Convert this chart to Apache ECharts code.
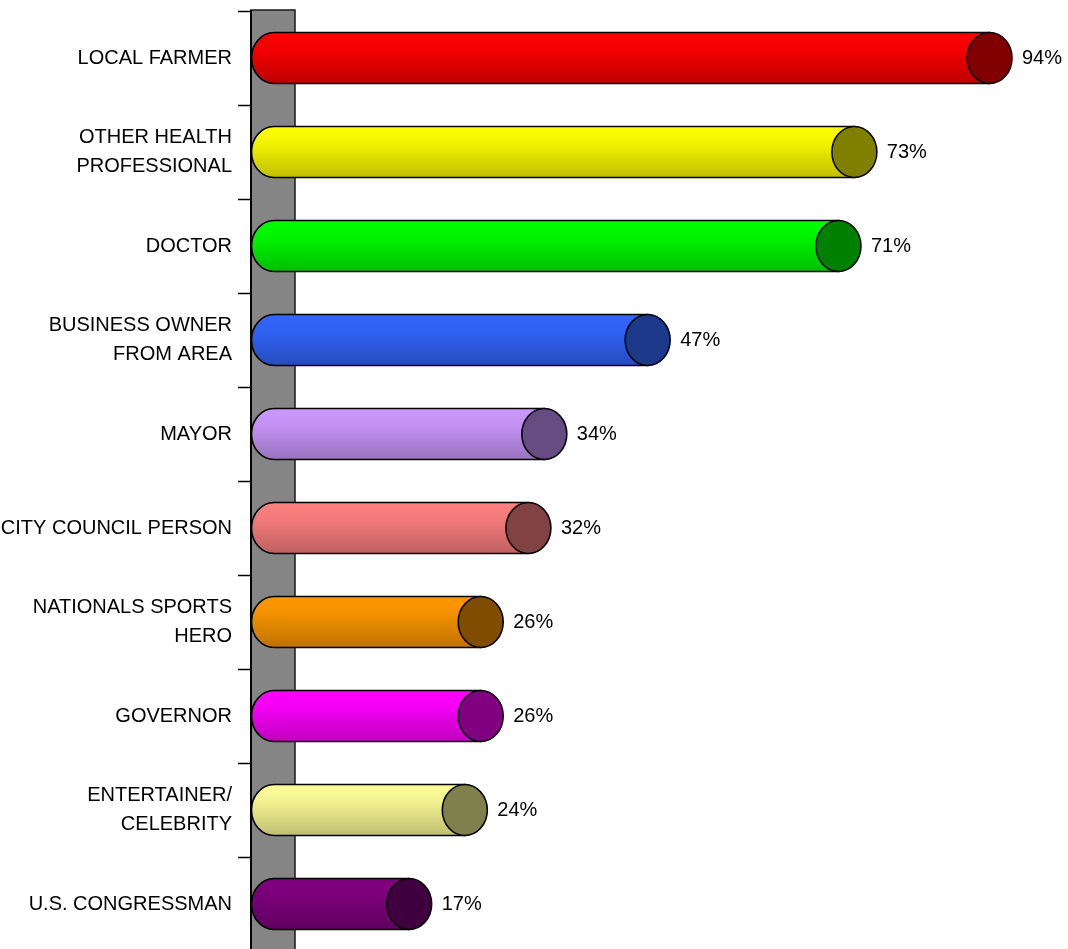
<!DOCTYPE html>
<html>
<head>
<meta charset="utf-8">
<script src="https://cdn.jsdelivr.net/npm/echarts@6/dist/echarts.min.js"></script>
<style>
  html, body { margin: 0; padding: 0; background: #fff; }
  #chart { width: 1068px; height: 949px; }
</style>
</head>
<body>
<div id="chart"></div>
<script>
// Categories, top to bottom
const categories = [
  'LOCAL FARMER',
  'OTHER HEALTH\nPROFESSIONAL',
  'DOCTOR',
  'BUSINESS OWNER\nFROM AREA',
  'MAYOR',
  'CITY COUNCIL PERSON',
  'NATIONALS SPORTS\nHERO',
  'GOVERNOR',
  'ENTERTAINER/\nCELEBRITY',
  'U.S. CONGRESSMAN'
];

// Percent values
const values = [94, 73, 71, 47, 34, 32, 26, 26, 24, 17];

// Cylinder side colour and end-face colour per category
const sideColors = ['#ff0000', '#ffff00', '#00ff00', '#3366ff', '#cc99ff',
                    '#ff8080', '#ff9900', '#ff00ff', '#ffff99', '#800080'];
const capColors  = ['#800000', '#808000', '#008000', '#1d3a8a', '#664c80',
                    '#804242', '#804c00', '#800080', '#80804c', '#400040'];

// Value axis range (bars longer than the maximum are clipped at it)
const X_MIN = 0;
const X_MAX = 90;

const FONT_FAMILY = '"Liberation Sans", Arial, sans-serif';
const FONT = '20px ' + FONT_FAMILY;

function shade(hex, f) {
  const n = parseInt(hex.slice(1), 16);
  const r = Math.round(((n >> 16) & 255) * f);
  const g = Math.round(((n >> 8) & 255) * f);
  const b = Math.round((n & 255) * f);
  return 'rgb(' + r + ',' + g + ',' + b + ')';
}

const chart = echarts.init(document.getElementById('chart'), null, { renderer: 'canvas' });

const AXIS_OFFSET = 23;   // gap between the axis line and the value origin
const WALL_RIGHT = 21;    // wall extends this far past the value origin
const TICK_LEN = 13;

// Grey back wall, the category axis line and its tick marks at band edges
function renderWall(params, api) {
  const cs = params.coordSys;
  const x0 = cs.x - AXIS_OFFSET;
  const x1 = cs.x + WALL_RIGHT;
  const y0 = cs.y - 1;
  const y1 = cs.y + cs.height + 4;
  const band = api.size([0, 1])[1];
  const children = [
    { type: 'rect', shape: { x: x0, y: y0, width: x1 - x0, height: y1 - y0 },
      style: { fill: '#858585', stroke: '#1a1a1a', lineWidth: 1.5 } },
    { type: 'line', shape: { x1: x0, y1: y0, x2: x0, y2: y1 },
      style: { stroke: '#000', lineWidth: 2 } }
  ];
  for (let k = 0; k <= categories.length; k++) {
    const y = Math.round(api.coord([0, 0])[1] - band / 2 + k * band) + 0.5;
    children.push({
      type: 'line',
      shape: { x1: x0 - TICK_LEN, y1: y, x2: x0, y2: y },
      style: { stroke: '#000', lineWidth: 1.5 }
    });
  }
  return { type: 'group', children: children };
}

function renderCylinder(params, api) {
  const raw = api.value(0);
  const cat = api.value(1);
  const v = Math.min(raw, X_MAX);
  const p0 = api.coord([X_MIN, cat]);
  const p1 = api.coord([v, cat]);
  const band = api.size([0, 1])[1];
  const ry = band * 0.272;
  const rx = ry * 0.88;
  const yc = p0[1];
  const x0 = p0[0];
  const x1 = p1[0];
  const i = params.dataIndex;
  const side = sideColors[i];
  const cap = capColors[i];

  const path =
    'M' + x0 + ',' + (yc - ry) +
    'L' + x1 + ',' + (yc - ry) +
    'L' + x1 + ',' + (yc + ry) +
    'L' + x0 + ',' + (yc + ry) +
    'A' + rx + ',' + ry + ',0,0,1,' + x0 + ',' + (yc - ry) + 'Z';

  return {
    type: 'group',
    children: [
      {
        type: 'path',
        shape: { pathData: path },
        style: {
          fill: new echarts.graphic.LinearGradient(0, 0, 0, 1, [
            { offset: 0, color: side },
            { offset: 0.35, color: shade(side, 0.95) },
            { offset: 1, color: shade(side, 0.74) }
          ]),
          stroke: '#000',
          lineWidth: 1.6
        }
      },
      {
        type: 'ellipse',
        shape: { cx: x1, cy: yc, rx: rx, ry: ry },
        style: { fill: cap, stroke: '#000', lineWidth: 1.6 }
      },
      {
        type: 'text',
        style: {
          x: x1 + rx + 10,
          y: yc,
          text: raw + '%',
          font: FONT,
          fill: '#000',
          verticalAlign: 'middle',
          align: 'left'
        }
      }
    ]
  };
}

chart.setOption({
  animation: false,
  backgroundColor: '#ffffff',
  grid: {
    left: 274, top: 11, width: 715.5, height: 940,
    containLabel: false,
    outerBoundsMode: 'none'
  },
  xAxis: {
    type: 'value',
    min: X_MIN,
    max: X_MAX,
    show: false
  },
  yAxis: {
    type: 'category',
    inverse: true,
    data: categories,
    offset: AXIS_OFFSET,
    axisLine: { show: true, lineStyle: { color: '#000', width: 2 } },
    axisTick: { show: false },
    axisLabel: {
      margin: 19,
      color: '#000',
      fontFamily: FONT_FAMILY,
      fontSize: 20,
      lineHeight: 29,
      align: 'right'
    },
    splitLine: { show: false }
  },
  series: [
    {
      type: 'custom',
      name: 'wall',
      clip: false,
      silent: true,
      z: 1,
      renderItem: renderWall,
      data: [[0, 0]]
    },
    {
      type: 'custom',
      name: 'share',
      clip: false,
      z: 3,
      renderItem: renderCylinder,
      encode: { x: 0, y: 1 },
      data: values.map((v, i) => [v, i])
    }
  ]
});
</script>
</body>
</html>
